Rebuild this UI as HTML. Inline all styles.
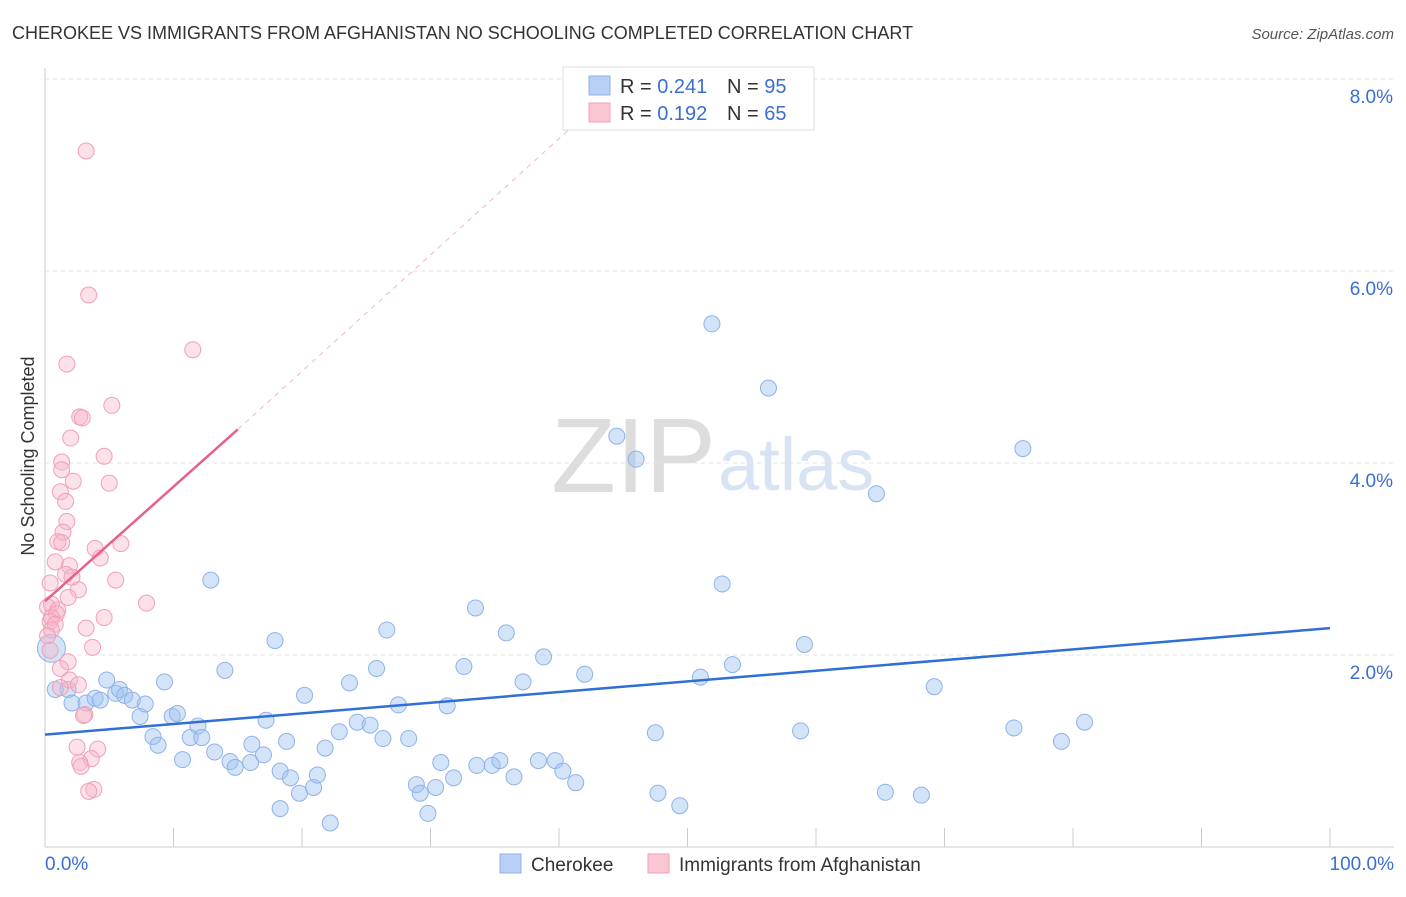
<!DOCTYPE html>
<html><head><meta charset="utf-8">
<style>
body{margin:0;background:#fff;font-family:"Liberation Sans",sans-serif;}
svg text{font-family:"Liberation Sans",sans-serif;}
</style></head>
<body>
<svg id="chart" width="1406" height="892">
<text x="12" y="39" font-size="18" fill="#333">CHEROKEE VS IMMIGRANTS FROM AFGHANISTAN NO SCHOOLING COMPLETED CORRELATION CHART</text>
<text x="1394" y="39" font-size="15" fill="#555" font-style="italic" text-anchor="end">Source: ZipAtlas.com</text>
<text x="34" y="456" font-size="18" fill="#333" transform="rotate(-90 34 456)" text-anchor="middle">No Schooling Completed</text>
<text x="716" y="492" font-size="106" fill="#ddd" text-anchor="end" font-family="Liberation Serif">ZIP</text>
<text x="718" y="490" font-size="74" fill="#d8e4f4">atlas</text>
<g id="grid"></g><g id="pts"></g><g id="lines"></g>
<g>
<rect x="563" y="67" width="251" height="63" fill="#fff" stroke="#ddd"/>
<rect x="589" y="76" width="21" height="19" fill="#b8d0f5" stroke="#8fb2ea"/>
<rect x="589" y="103" width="21" height="19" fill="#f9c6d3" stroke="#f0a0b8"/>
<text x="620" y="93" font-size="20" fill="#333">R = <tspan fill="#3a6fd0">0.241</tspan></text>
<text x="727" y="93" font-size="20" fill="#333">N = <tspan fill="#3a6fd0">95</tspan></text>
<text x="620" y="120" font-size="20" fill="#333">R = <tspan fill="#3a6fd0">0.192</tspan></text>
<text x="727" y="120" font-size="20" fill="#333">N = <tspan fill="#3a6fd0">65</tspan></text>
</g>
<g>
<rect x="500" y="854" width="21" height="19" fill="#b8d0f5" stroke="#8fb2ea"/>
<text x="531" y="871" font-size="19" fill="#333">Cherokee</text>
<rect x="648" y="854" width="21" height="19" fill="#f9c6d3" stroke="#f0a0b8"/>
<text x="679" y="871" font-size="19" fill="#333">Immigrants from Afghanistan</text>
</g>
<text x="45" y="870" font-size="19" fill="#3a6fd0">0.0%</text>
<text x="1394" y="870" font-size="19" fill="#3a6fd0" text-anchor="end">100.0%</text>
</svg>
<script>
const yTicks=[2,4,6,8];
const yTickLabels=["2.0%","4.0%","6.0%","8.0%"];
const cherokeeX=[0.8,1.8,2.1,3.2,3.9,4.3,4.8,5.5,5.8,6.2,6.8,7.4,7.8,8.4,8.8,9.3,9.9,10.3,10.7,11.3,11.9,12.2,12.9,13.2,14,14.4,14.8,16,16.1,17,17.2,17.9,18.3,18.8,19.1,19.8,20.2,20.9,21.2,21.8,22.2,22.9,23.7,24.3,25.3,25.8,26.3,26.6,27.5,28.3,28.9,29.2,29.8,30.4,30.8,31.3,31.8,32.6,33.5,33.6,34.8,35.4,35.9,36.5,37.2,38.4,38.8,39.7,40.3,41.3,42,44.5,46,47.5,47.7,49.4,51,51.9,52.7,53.5,56.3,58.8,59.1,64.7,65.4,68.2,69.2,75.4,76.1,79.1,80.9,18.3,0.5];
const cherokeeY=[1.64,1.64,1.5,1.5,1.55,1.53,1.74,1.6,1.64,1.58,1.53,1.36,1.49,1.15,1.06,1.72,1.36,1.39,0.91,1.14,1.26,1.14,2.78,0.99,1.84,0.89,0.83,0.88,1.07,0.96,1.32,2.15,0.79,1.1,0.72,0.56,1.58,0.62,0.75,1.03,0.25,1.20,1.71,1.30,1.27,1.86,1.13,2.26,1.48,1.13,0.65,0.56,0.35,0.62,0.88,1.47,0.72,1.88,2.49,0.85,0.85,0.90,2.23,0.73,1.72,0.90,1.98,0.90,0.79,0.67,1.80,4.28,4.04,1.19,0.56,0.43,1.77,5.45,2.74,1.90,4.78,1.21,2.11,3.68,0.57,0.54,1.67,1.24,4.15,1.10,1.30,0.40,2.07];
const afgX=[3.2,3.4,1.7,11.5,5.2,2.7,2.9,2,4.6,1.3,1.3,2.2,5,1.2,1.6,1.7,1.4,1,1.3,5.9,3.9,4.3,0.8,1.9,1.6,2.1,5.5,0.4,2.6,1.8,7.9,0.5,0.2,1,0.9,4.6,0.5,0.4,0.8,3.2,0.5,0.2,3.7,0.4,1.8,1.2,1.9,2.6,1.2,3.1,3,2.5,4.1,3.6,2.7,2.8,3.8,3.4];
const afgY=[7.25,5.75,5.03,5.18,4.6,4.48,4.47,4.26,4.07,4.01,3.93,3.81,3.79,3.70,3.60,3.39,3.28,3.18,3.17,3.16,3.11,3.01,2.97,2.93,2.84,2.81,2.78,2.75,2.68,2.60,2.54,2.53,2.50,2.47,2.43,2.39,2.39,2.35,2.32,2.28,2.26,2.20,2.08,2.05,1.93,1.86,1.74,1.69,1.66,1.38,1.37,1.04,1.02,0.92,0.88,0.84,0.60,0.58];
const blueTrend=[[0,1.17],[100,2.28]];
const pinkTrend=[[0,2.56],[15,4.35]];
const pinkDash=[[15,4.35],[41,7.5]];
const NS="http://www.w3.org/2000/svg";
const xs=v=>45+v*12.85, ys=v=>847-v*96;
function mk(tag,attrs,parent){const e=document.createElementNS(NS,tag);for(const k in attrs)e.setAttribute(k,attrs[k]);parent.appendChild(e);return e;}
const grid=document.getElementById('grid'),pts=document.getElementById('pts'),lines=document.getElementById('lines');
yTicks.forEach((t,i)=>{
 const l=mk('line',{x1:45,x2:1394,y1:ys(t),y2:ys(t),stroke:'#e3e3e3','stroke-dasharray':'4,4'},grid);
 
 
 const tx=mk('text',{x:1393,y:ys(t)+24,'font-size':19,fill:'#3a6fd0','text-anchor':'end'},grid);
 tx.textContent=yTickLabels[i];
 
 
});
const ax=mk('line',{x1:45,x2:1394,y1:847,y2:847,stroke:'#ccc'},grid);


const ay=mk('line',{x1:45,x2:45,y1:68,y2:847,stroke:'#ccc'},grid);


for(let i=0;i<=10;i++){const tk=mk('line',{x1:xs(i*10),x2:xs(i*10),y1:828,y2:847,stroke:'#ccc'},grid);
 
 }
cherokeeX.forEach((x,i)=>{const c=mk('circle',{cx:xs(x),cy:ys(cherokeeY[i]),r:i==cherokeeX.length-1?14:8,fill:'rgba(160,195,240,0.45)',stroke:'#8fb2ea','stroke-width':1},pts);
 
 });
afgX.forEach((x,i)=>{const c=mk('circle',{cx:xs(x),cy:ys(afgY[i]),r:8,fill:'rgba(248,180,200,0.4)',stroke:'#f0a0b8','stroke-width':1},pts);
 
 });
const b=mk('line',{x1:xs(blueTrend[0][0]),y1:ys(blueTrend[0][1]),x2:xs(blueTrend[1][0]),y2:ys(blueTrend[1][1]),stroke:'#2f6fd6','stroke-width':2.5},lines);


const p=mk('line',{x1:xs(pinkTrend[0][0]),y1:ys(pinkTrend[0][1]),x2:xs(pinkTrend[1][0]),y2:ys(pinkTrend[1][1]),stroke:'#e8608a','stroke-width':2.5},lines);


const pd=mk('line',{x1:xs(pinkDash[0][0]),y1:ys(pinkDash[0][1]),x2:xs(pinkDash[1][0]),y2:ys(pinkDash[1][1]),stroke:'#f0b8c8','stroke-width':1,'stroke-dasharray':'5,5'},lines);


</script>
</body></html>
